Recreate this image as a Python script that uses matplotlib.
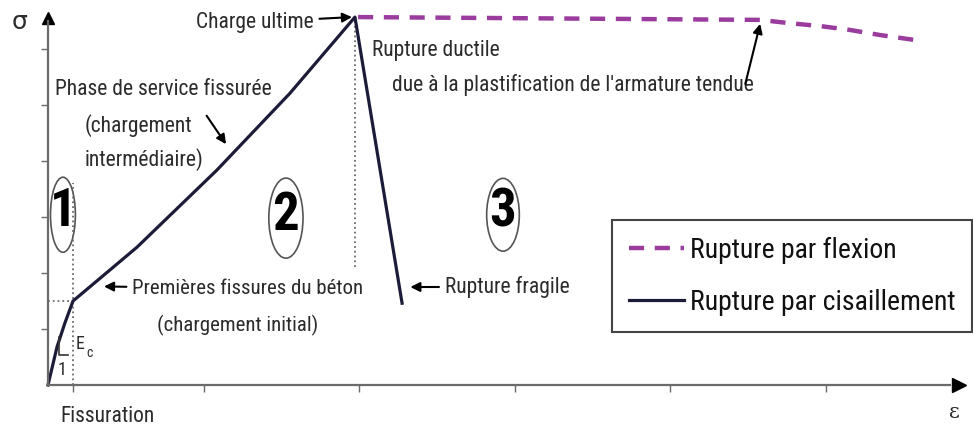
import matplotlib
matplotlib.use("Agg")
import matplotlib.pyplot as plt
from matplotlib import font_manager
from matplotlib.patches import Ellipse

# ---------------- data ----------------
# shear failure curve (sigma vs epsilon, arbitrary units)
shear_eps = [0.0, 0.058, 0.109, 0.161, 0.572, 1.087, 1.556, 1.974, 2.277]
shear_sig = [0.0, 0.68, 1.11, 1.50, 2.46, 3.84, 5.21, 6.57, 1.46]
# flexural failure curve (after ultimate load)
flex_eps = [1.994, 4.579, 4.772, 4.965, 5.158, 5.350, 5.576]
flex_sig = [6.57, 6.52, 6.46, 6.41, 6.34, 6.25, 6.16]

x_ticks = [0.161, 1, 2, 3, 4, 5]
y_ticks = [1, 2, 3, 4, 5, 6]
eps_crack = 0.161
sig_crack = 1.50
eps_ult = 1.974
sig_ult = 6.57

legend_labels = ["Rupture par flexion", "Rupture par cisaillement"]
phase_labels = ["1", "2", "3"]

# ---------------- fonts ----------------
available = {f.name for f in font_manager.fontManager.ttflist}
scale = 1.0
fam = None
for cand in ["Liberation Sans Narrow", "Roboto Condensed", "Open Sans Condensed", "DejaVu Sans Condensed"]:
    if cand in available:
        fam = cand
        break
if fam is None:
    fam = "Liberation Sans"
    scale = 0.82
plt.rcParams["font.family"] = [fam, "DejaVu Sans"]

def fs(v):
    return v * scale

TXT = "#2b2b2b"
LINE = "#1c1c38"
MAG = "#9a3c9e"
GRAY = "#6a6a6a"

fig = plt.figure(figsize=(9.73, 4.32), dpi=100)
ax = fig.add_axes([0, 0, 1, 1])
ax.set_xlim(-48 / 155.5, (973 - 48) / 155.5)
ax.set_ylim((385 - 432) / 56, 385 / 56)

# axes as arrows
for s in ["top", "right"]:
    ax.spines[s].set_visible(False)
ax.spines["left"].set_position(("data", 0))
ax.spines["bottom"].set_position(("data", 0))
ax.spines["left"].set_bounds(0, 6.5)
ax.spines["bottom"].set_bounds(0, 5.8)
for s in ["left", "bottom"]:
    ax.spines[s].set_color(GRAY)
    ax.spines[s].set_linewidth(1.6)
ax.plot([5.86], [0], marker=">", color="k", markersize=10, clip_on=False)
ax.plot([0], [6.56], marker="^", color="k", markersize=9, clip_on=False)
ax.set_xticks(x_ticks)
ax.set_yticks(y_ticks)
ax.set_xticklabels([])
ax.set_yticklabels([])
ax.tick_params(direction="out", length=5, width=1, color=GRAY)

# dotted guides
ax.plot([eps_crack, eps_crack], [0, 3.6], ls=":", color=GRAY, lw=1.3)
ax.plot([0, eps_crack], [sig_crack, sig_crack], ls=":", color=GRAY, lw=1.3)
ax.plot([eps_ult, eps_ult], [2.1, sig_ult], ls=":", color=GRAY, lw=1.3)

# curves
l_flex, = ax.plot(flex_eps, flex_sig, color=MAG, lw=3.2, label=legend_labels[0])
l_flex.set_dashes([3.4, 2.4])
l_shear, = ax.plot(shear_eps, shear_sig, color=LINE, lw=2.3, label=legend_labels[1])

# slope triangle
ax.plot([0.071, 0.071, 0.13], [0.86, 0.54, 0.54], color="#333", lw=1.2)
ax.text(0.18, 0.73, "E", fontsize=fs(13), color=TXT, va="center", ha="left")
ax.text(0.245, 0.58, "c", fontsize=fs(10), color=TXT, va="center", ha="left")
ax.text(0.09, 0.27, "1", fontsize=fs(13), color=TXT, va="center", ha="center")

# phase circles
circles = [(0.096, 3.04, 0.16, 1.34), (1.53, 2.98, 0.22, 1.43), (2.926, 3.04, 0.21, 1.30)]
for (cx, cy, w, h), lab in zip(circles, phase_labels):
    ax.add_patch(Ellipse((cx, cy), w, h, fill=False, ec="#555", lw=1.2))
    ax.text(cx, cy + 0.05, lab, fontsize=fs(38), fontweight="bold", color="k",
            ha="center", va="center")

arrow = dict(arrowstyle="-|>", color="k", lw=1.5, mutation_scale=14, shrinkA=2, shrinkB=0)

# axis labels
ax.text(-0.18, 6.48, "σ", fontsize=18, color=TXT, ha="center", va="center",
        family=["DejaVu Sans"])
ax.text(5.83, -0.5, "ε", fontsize=15, color=TXT, ha="center", va="center",
        family=["DejaVu Serif"])
ax.text(0.08, -0.56, "Fissuration", fontsize=fs(15.5), color=TXT, ha="left", va="center")

# annotations
ax.annotate("Charge ultime", xy=(1.955, 6.57), xytext=(1.71, 6.48),
            fontsize=fs(15.5), color=TXT, ha="right", va="center", arrowprops=arrow)
ax.text(2.084, 5.98, "Rupture ductile", fontsize=fs(15.5), color=TXT, ha="left", va="center")
ax.text(2.212, 5.36, "due à la plastification de l'armature tendue", fontsize=fs(15.5),
        color=TXT, ha="left", va="center")
ax.annotate("", xy=(4.58, 6.45), xytext=(4.48, 5.33), arrowprops=arrow)

ax.text(0.045, 5.27, "Phase de service fissurée", fontsize=fs(15.5), color=TXT, ha="left", va="center")
ax.text(0.238, 4.64, "(chargement", fontsize=fs(15.5), color=TXT, ha="left", va="center")
ax.text(0.238, 4.02, "intermédiaire)", fontsize=fs(15.5), color=TXT, ha="left", va="center")
ax.annotate("", xy=(1.145, 4.30), xytext=(1.01, 4.85), arrowprops=arrow)

ax.annotate("Premières fissures du béton", xy=(0.36, 1.76), xytext=(0.54, 1.72),
            fontsize=fs(15), color=TXT, ha="left", va="center", arrowprops=arrow)
ax.text(1.22, 1.07, "(chargement initial)", fontsize=fs(15), color=TXT, ha="center", va="center")

ax.annotate("Rupture fragile", xy=(2.33, 1.75), xytext=(2.55, 1.75),
            fontsize=fs(15.5), color=TXT, ha="left", va="center", arrowprops=arrow)

# legend
leg = ax.legend(handles=[l_flex, l_shear], loc="upper left",
                bbox_to_anchor=(612 / 973, 1 - 220 / 432), borderaxespad=0,
                fontsize=fs(20), handlelength=2.0, handletextpad=0.2,
                labelspacing=0.9, borderpad=0.6, frameon=True, fancybox=False,
                edgecolor="#444", framealpha=1)
leg.get_frame().set_linewidth(1.5)
for t in leg.get_texts():
    t.set_color("#111")

fig.savefig("out.png", dpi=100, facecolor="white")
